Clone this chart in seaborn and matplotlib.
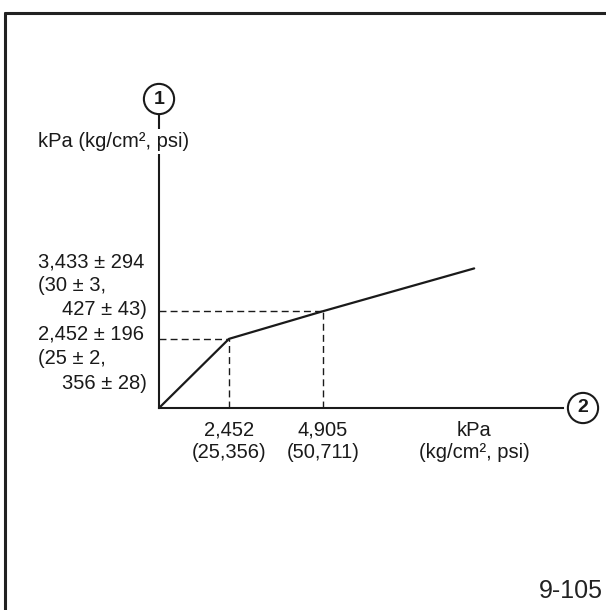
import numpy as np
import matplotlib
matplotlib.use("Agg")
import matplotlib.pyplot as plt
from matplotlib.lines import Line2D
import seaborn as sns

# Eingangsdruck / Ausgangsdruck (kPa)
press_in = [0, 2452, 4905, 8850]
press_out = [0, 2452, 3433, 4950]

# Knickpunkte mit gestrichelten Hilfslinien
knee_in = [2452, 4905]
knee_out = [2452, 3433]

x_tick_labels = ["2,452\n(25,356)", "4,905\n(50,711)"]
y_block_top = ["3,433 ± 294", "(30 ± 3,", "427 ± 43)"]
y_block_low = ["2,452 ± 196", "(25 ± 2,", "356 ± 28)"]
axis_unit = "kPa (kg/cm², psi)"
x_unit = ["kPa", "(kg/cm², psi)"]
fig_code = "9-105"

W, H = 606, 610
INK = "#1a1a1a"

sns.set_theme(style="white")
plt.rcParams["font.family"] = ["Liberation Sans", "DejaVu Sans"]

fig = plt.figure(figsize=(W / 100, H / 100), dpi=100)
fig.patch.set_facecolor("white")


def fp(x, y):
    # Pixelposition -> Figurenkoordinaten
    return x / W, 1 - y / H


# Ursprung bei (159, 408), Achsen bis x=563 bzw. y=115
ax = fig.add_axes([159 / W, (H - 408) / H, 404 / W, 293 / H])
ax.set_facecolor("none")

# schematische (nicht lineare) x-Achse der Vorlage
sx_data = [-5000, 0, 2452, 4905, 30000]
sx_pix = [-5000 * 70 / 2452, 0, 70, 164, 164 + (30000 - 4905) * 94 / 2453]


def fwd(v):
    return np.interp(v, sx_data, sx_pix)


def inv(v):
    return np.interp(v, sx_pix, sx_data)


ax.set_xscale("function", functions=(fwd, inv))
ax.set_xlim(0, 11168)
ax.set_ylim(0, 293 / 0.0282)

sns.lineplot(x=press_in, y=press_out, ax=ax, color=INK, lw=1.6, zorder=3)

for xi, yi in zip(knee_in, knee_out):
    ax.plot([0, xi], [yi, yi], color=INK, lw=1.0, ls=(0, (5, 3)), zorder=2)
    ax.plot([xi, xi], [0, yi], color=INK, lw=1.0, ls=(0, (5, 3)), zorder=2)

for side in ["top", "right"]:
    ax.spines[side].set_visible(False)
for side in ["left", "bottom"]:
    ax.spines[side].set_color(INK)
    ax.spines[side].set_linewidth(1.5)

fs = 14.5
ax.set_yticks([])
ax.set_xticks(knee_in, labels=x_tick_labels)
ax.tick_params(axis="x", length=0, pad=9, labelsize=fs, labelcolor=INK)
for lab in ax.get_xticklabels():
    lab.set_linespacing(1.2)

# Beschriftung der Ausgangsdrücke links
for i, s in enumerate(y_block_top):
    x, ha = (147, "right") if i == 2 else (38, "left")
    fig.text(*fp(x, 267 + i * 24.2), s, ha=ha, va="baseline", fontsize=fs, color=INK)
for i, s in enumerate(y_block_low):
    x, ha = (147, "right") if i == 2 else (38, "left")
    fig.text(*fp(x, 340 + i * 24.5), s, ha=ha, va="baseline", fontsize=fs, color=INK)

fig.text(*fp(114, 147), axis_unit, ha="center", va="baseline", fontsize=fs, color=INK,
         bbox=dict(fc="white", ec="none", pad=2))
fig.text(*fp(474, 436), x_unit[0], ha="center", va="baseline", fontsize=fs, color=INK)
fig.text(*fp(474, 458), x_unit[1], ha="center", va="baseline", fontsize=fs, color=INK)

circ = dict(boxstyle="circle,pad=0.34", fc="white", ec=INK, lw=1.5)
ax.text(0, (408 - 99) / 293, "1", transform=ax.transAxes, ha="center", va="center",
        fontsize=14, fontweight="bold", color=INK, bbox=circ, clip_on=False)
ax.text((583 - 159) / 404, 0, "2", transform=ax.transAxes, ha="center", va="center",
        fontsize=14, fontweight="bold", color=INK, bbox=circ, clip_on=False)

fig.text(*fp(603, 598), fig_code, ha="right", va="baseline", fontsize=18, color="#222222")

# Rahmen oben und links
fig.add_artist(Line2D([4.5 / W, 1], [1 - 12.5 / H] * 2, color="#222222", lw=2.2))
fig.add_artist(Line2D([4.5 / W] * 2, [0, 1 - 12.5 / H], color="#222222", lw=2.2))

fig.savefig("out.png", dpi=100)
